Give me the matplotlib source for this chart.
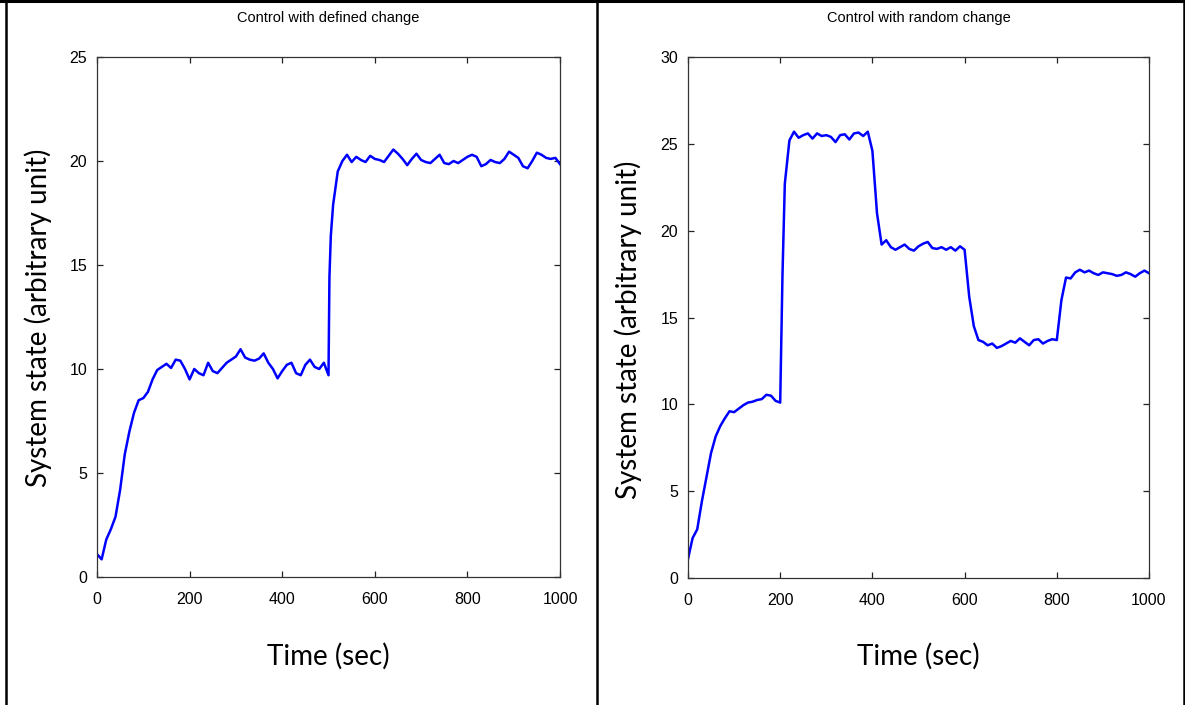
import matplotlib
matplotlib.use('Agg')
import matplotlib.pyplot as plt
from matplotlib.lines import Line2D


# left panel: control with defined change (set point 10 -> 20 at t = 500 s)
time_defined = list(range(0, 501, 10)) + [502, 505] + list(range(510, 1001, 10))
state_defined = [
    1.10, 0.85, 1.80, 2.30, 2.90, 4.20, 5.90, 7.00, 7.90, 8.50,
    8.60, 8.90, 9.50, 9.95, 10.10, 10.25, 10.05, 10.45, 10.40, 10.00,
    9.50, 10.00, 9.80, 9.70, 10.30, 9.90, 9.80, 10.05, 10.30, 10.45,
    10.60, 10.95, 10.55, 10.45, 10.40, 10.50, 10.75, 10.30, 10.00, 9.55,
    9.90, 10.20, 10.30, 9.80, 9.70, 10.20, 10.45, 10.10, 10.00, 10.30,
    9.70, 14.40, 16.40,
    17.90, 19.50, 20.00, 20.30, 19.95, 20.20, 20.05, 19.95, 20.25, 20.10,
    20.05, 19.95, 20.25, 20.55, 20.35, 20.10, 19.80, 20.10, 20.35, 20.05,
    19.95, 19.90, 20.10, 20.30, 19.90, 19.85, 20.00, 19.90, 20.05, 20.20,
    20.30, 20.20, 19.75, 19.85, 20.05, 19.95, 19.90, 20.10, 20.45, 20.30,
    20.15, 19.75, 19.65, 20.00, 20.40, 20.30, 20.15, 20.10, 20.15, 19.85,
]

# right panel: control with random change
time_random = list(range(0, 201, 10)) + [202, 205] + list(range(210, 1001, 10))
state_random = [
    1.10, 2.30, 2.80, 4.40, 5.80, 7.20, 8.15, 8.75, 9.20, 9.60,
    9.55, 9.75, 9.95, 10.10, 10.15, 10.25, 10.30, 10.55, 10.50, 10.20,
    10.10, 13.10, 17.50,
    22.70, 25.20, 25.70, 25.35, 25.50, 25.60, 25.30, 25.60, 25.45,
    25.50, 25.40, 25.10, 25.50, 25.55, 25.25, 25.60, 25.65, 25.45, 25.70,
    24.60, 21.00, 19.20, 19.45, 19.05, 18.90, 19.05, 19.20, 18.95, 18.85,
    19.10, 19.25, 19.35, 19.00, 18.95, 19.05, 18.90, 19.05, 18.85, 19.10,
    18.90, 16.20, 14.50, 13.70, 13.60, 13.40, 13.50, 13.25, 13.35, 13.50,
    13.65, 13.55, 13.80, 13.60, 13.40, 13.70, 13.75, 13.50, 13.65, 13.75,
    13.70, 16.00, 17.30, 17.25, 17.60, 17.75, 17.60, 17.70, 17.55, 17.45,
    17.60, 17.55, 17.50, 17.40, 17.45, 17.60, 17.50, 17.35, 17.55, 17.70,
    17.55,
]

titles = ['Control with defined change', 'Control with random change']
y_limits = [25, 30]
x_ticks = [0, 200, 400, 600, 800, 1000]
y_ticks = [[0, 5, 10, 15, 20, 25], [0, 5, 10, 15, 20, 25, 30]]

W, H = 1185, 705


def style_axes(ax, ymax, yticks):
    ax.set_xlim(0, 1000)
    ax.set_ylim(0, ymax)
    ax.set_xticks(x_ticks)
    ax.set_yticks(yticks)
    ax.tick_params(direction='in', length=4.5, width=0.9, top=True, right=True,
                   labelsize=11.5, colors='#222222')
    ax.tick_params(axis='x', pad=11)
    ax.tick_params(axis='y', pad=7)
    for sp in ax.spines.values():
        sp.set_linewidth(0.9)
        sp.set_color('#333333')
    for lbl in ax.get_xticklabels() + ax.get_yticklabels():
        lbl.set_fontfamily('Liberation Sans')
        lbl.set_color('black')


def main():
    fig = plt.figure(figsize=(W / 100, H / 100), dpi=100)
    fig.patch.set_facecolor('white')

    ax1 = fig.add_axes([97 / W, 1 - 577 / H, 463 / W, 520 / H])
    ax2 = fig.add_axes([688 / W, 1 - 578 / H, 461 / W, 521 / H])

    ax1.plot(time_defined, state_defined, color='#0000ff', lw=1.8)
    ax2.plot(time_random, state_random, color='#0000ff', lw=1.8)

    style_axes(ax1, y_limits[0], y_ticks[0])
    style_axes(ax2, y_limits[1], y_ticks[1])

    # titles and axis labels placed in figure coords
    centers = [328.5 / W, 918.5 / W]
    for cx, t in zip(centers, titles):
        fig.text(cx, 1 - 18 / H, t, ha='center', va='center',
                 fontsize=10.5, family='Liberation Sans')
        fig.text(cx, 1 - 656 / H, 'Time (sec)', ha='center', va='center',
                 fontsize=20, family='Lato')
    fig.text(38 / W, 1 - 318 / H, 'System state (arbitrary unit)', rotation=90,
             ha='center', va='center', fontsize=20, family='Lato')
    fig.text(628 / W, 1 - 330 / H, 'System state (arbitrary unit)', rotation=90,
             ha='center', va='center', fontsize=20, family='Lato')

    # table-like frame around the two panels
    for x in [6 / W, 597 / W, 1183.5 / W]:
        fig.add_artist(Line2D([x, x], [0, 1], transform=fig.transFigure,
                              color='black', lw=1.8))
    fig.add_artist(Line2D([0, 1], [1 - 1 / H, 1 - 1 / H], transform=fig.transFigure,
                          color='black', lw=2.2))

    fig.savefig('out.png', dpi=100)


if __name__ == '__main__':
    main()
